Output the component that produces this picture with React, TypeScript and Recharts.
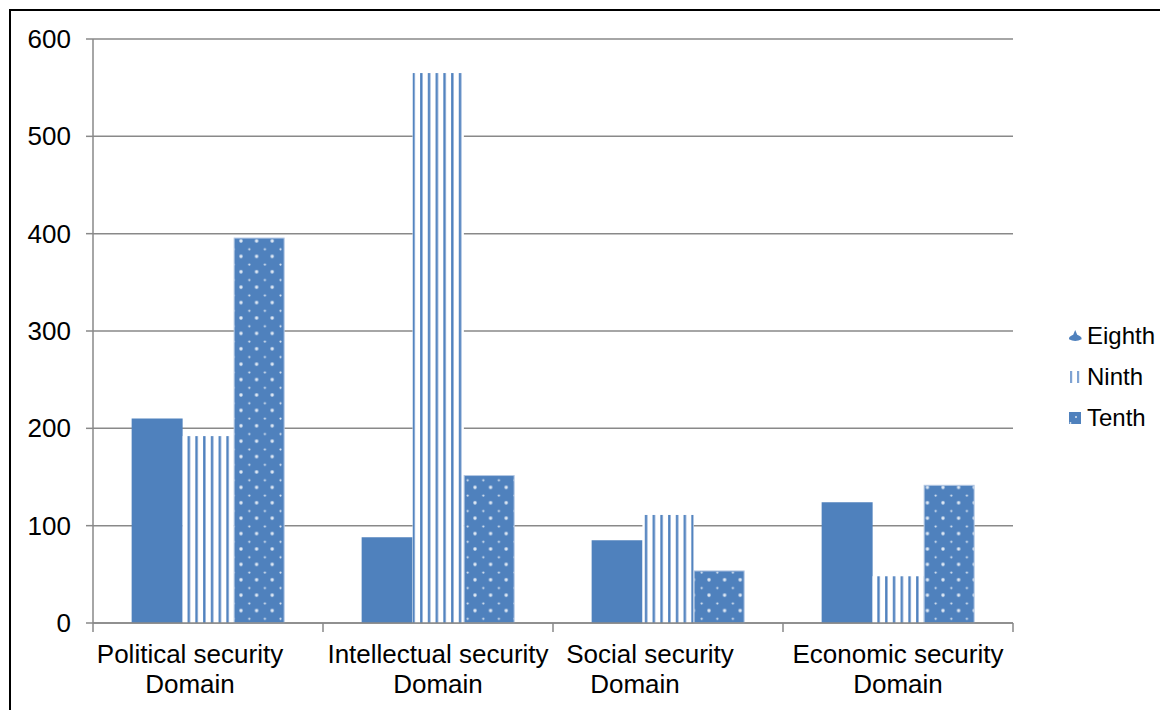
import React from "react";
import { BarChart, Bar, XAxis, YAxis, CartesianGrid, Legend } from "recharts";

const CATEGORIES = [
  "Political security Domain",
  "Intellectual security Domain",
  "Social security Domain",
  "Economic security Domain",
];
const EIGHTH = [210, 88, 85, 124];
const NINTH = [192, 565, 111, 48];
const TENTH = [396, 152, 54, 142];
const Y_TICKS = [0, 100, 200, 300, 400, 500, 600];
const SERIES_NAMES = ["Eighth", "Ninth", "Tenth"];

const data = CATEGORIES.map((c, i) => ({
  name: c,
  Eighth: EIGHTH[i],
  Ninth: NINTH[i],
  Tenth: TENTH[i],
}));

const BLUE = "#4F81BD";
const GRID = "#898989";
const FONT = "'Liberation Sans', Arial, sans-serif";

// per-category label shift (line1, line2) mimicking the source's label placement
const LABEL_DX: [number, number][] = [
  [-18, -18],
  [0, 0],
  [-18, -33],
  [0, 0],
];

const XTick = (props: any) => {
  const { x, y, payload, index, visibleTicksCount } = props;
  const full: string = payload.value;
  const cut = full.lastIndexOf(" ");
  const l1 = full.slice(0, cut);
  const l2 = full.slice(cut + 1);
  const dx = LABEL_DX[index] || [0, 0];
  const off = payload.offset || 0;
  const isLast = index === (visibleTicksCount ?? CATEGORIES.length) - 1;
  return (
    <g>
      <line x1={x - off} x2={x - off} y1={y} y2={y + 9} stroke={GRID} strokeWidth={1.5} />
      {isLast && <line x1={x + off} x2={x + off} y1={y} y2={y + 9} stroke={GRID} strokeWidth={1.5} />}
      <text x={x + dx[0]} y={y + 40} textAnchor="middle" fontSize={26} fontFamily={FONT} fill="#000">
        {l1}
      </text>
      <text x={x + dx[1]} y={y + 70} textAnchor="middle" fontSize={26} fontFamily={FONT} fill="#000">
        {l2}
      </text>
    </g>
  );
};

const YTick = (props: any) => {
  const { x, y, payload } = props;
  return (
    <text x={x} y={y} dy={9} textAnchor="end" fontSize={26} fontFamily={FONT} fill="#000">
      {payload.value}
    </text>
  );
};

const LegendIcon = ({ name }: { name: string }) => {
  if (name === "Eighth") {
    return (
      <svg width={18} height={14} style={{ display: "block" }}>
        <path d="M9.2 1 L7.2 5.8 Q2.5 7.5 3 10.2 Q9.2 13.6 15.6 10.2 Q16 7.5 11.2 5.8 Z" fill={BLUE} />
      </svg>
    );
  }
  if (name === "Ninth") {
    return (
      <svg width={18} height={14} style={{ display: "block" }}>
        <rect x={4} y={1} width={2.2} height={12} fill="#7fa3d3" />
        <rect x={11} y={1} width={2.2} height={12} fill="#7fa3d3" />
      </svg>
    );
  }
  return (
    <svg width={18} height={14} style={{ display: "block" }}>
      <rect x={3} y={1} width={12} height={12} fill={BLUE} />
      <circle cx={10} cy={6} r={1} fill="#dde7f3" />
      <circle cx={4.5} cy={12} r={0.9} fill="#dde7f3" />
    </svg>
  );
};

const LegendContent = () => (
  <div style={{ fontFamily: FONT, fontSize: 24, color: "#000" }}>
    {SERIES_NAMES.map((n) => (
      <div key={n} style={{ display: "flex", alignItems: "center", height: 41 }}>
        <LegendIcon name={n} />
        <span style={{ marginLeft: 3 }}>{n}</span>
      </div>
    ))}
  </div>
);

const NinthShape = (props: any) => {
  const { x, y, width, height } = props;
  if (!height || height <= 0) return null;
  return (
    <g>
      <rect x={x} y={y} width={width} height={height} fill="#ffffff" />
      <rect x={x} y={y} width={width} height={height} fill="url(#ninthStripes)" />
    </g>
  );
};

const TenthShape = (props: any) => {
  const { x, y, width, height } = props;
  if (!height || height <= 0) return null;
  return (
    <rect
      x={x + 0.5}
      y={y + 0.5}
      width={width - 1}
      height={height - 0.5}
      fill="url(#tenthDots)"
      stroke="#b3c7e3"
      strokeWidth={1}
    />
  );
};

export default function App() {
  return (
    <div
      style={{
        position: "fixed",
        left: 0,
        top: 0,
        width: 1160,
        height: 710,
        overflow: "hidden",
        background: "#fff",
      }}
    >
      <div
        style={{
          position: "absolute",
          left: 9,
          top: 9,
          width: 1200,
          height: 750,
          borderTop: "2px solid #000",
          borderLeft: "2px solid #000",
          pointerEvents: "none",
        }}
      />
      <BarChart
        width={1160}
        height={710}
        data={data}
        margin={{ top: 39, right: 147, bottom: 0, left: 0 }}
        barCategoryGap="16.8%"
        barGap={0}
      >
        <defs>
          <pattern id="ninthStripes" patternUnits="userSpaceOnUse" x={1.5} y={0} width={7.75} height={10}>
            <rect x={0} y={0} width={7.75} height={10} fill="#ffffff" />
            <rect x={0} y={0} width={2.6} height={10} fill="#6f97cb" />
            <rect x={0.6} y={0} width={1.4} height={10} fill="#4F81BD" />
          </pattern>
          <pattern id="tenthDots" patternUnits="userSpaceOnUse" x={7} y={10} width={15.6} height={15.4}>
            <rect x={0} y={0} width={15.6} height={15.4} fill={BLUE} />
            <circle cx={0.5} cy={0.5} r={1.1} fill="#dde7f3" />
            <circle cx={15.1} cy={0.5} r={1.1} fill="#dde7f3" />
            <circle cx={0.5} cy={14.9} r={1.1} fill="#dde7f3" />
            <circle cx={15.1} cy={14.9} r={1.1} fill="#dde7f3" />
            <circle cx={8.3} cy={8.2} r={1.1} fill="#dde7f3" />
          </pattern>
        </defs>
        <CartesianGrid vertical={false} stroke={GRID} strokeWidth={1.5} />
        <XAxis
          dataKey="name"
          height={87}
          axisLine={{ stroke: GRID, strokeWidth: 1.5 }}
          tickLine={false}
          tickSize={0}
          tickMargin={0}
          interval={0}
          tick={<XTick />}
        />
        <YAxis
          width={93}
          domain={[0, 600]}
          ticks={Y_TICKS}
          interval={0}
          axisLine={{ stroke: GRID, strokeWidth: 1.5 }}
          tickLine={{ stroke: GRID, strokeWidth: 1.5 }}
          tickSize={7}
          tickMargin={15}
          tick={<YTick />}
        />
        <Legend
          layout="vertical"
          align="center"
          verticalAlign="middle"
          content={<LegendContent />}
          wrapperStyle={{ left: 1066, top: 315, width: 94, height: 123 }}
        />
        <Bar dataKey="Eighth" name="Eighth" fill={BLUE} isAnimationActive={false} />
        <Bar dataKey="Ninth" name="Ninth" fill="url(#ninthStripes)" shape={<NinthShape />} isAnimationActive={false} />
        <Bar dataKey="Tenth" name="Tenth" fill={BLUE} shape={<TenthShape />} isAnimationActive={false} />
      </BarChart>
    </div>
  );
}
